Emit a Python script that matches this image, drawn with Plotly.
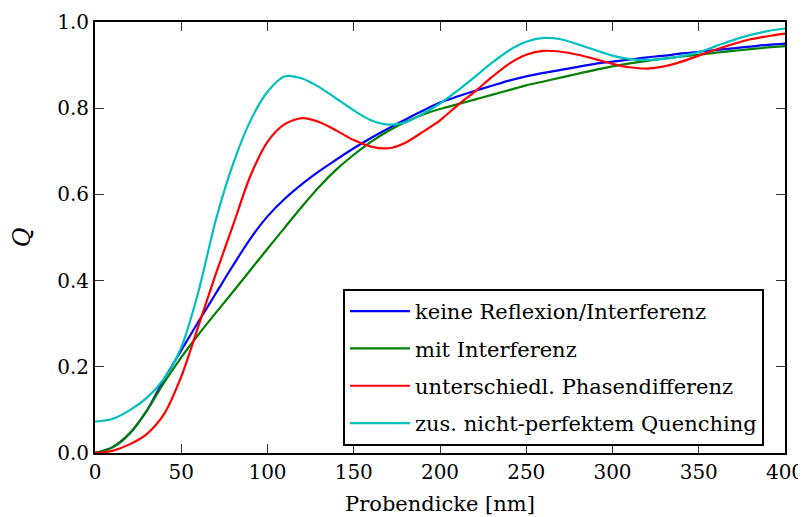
import plotly.graph_objects as go

x = list(range(0, 401, 10))

keine_reflexion = [0.0, 0.013, 0.045, 0.098, 0.171, 0.238, 0.305, 0.37, 0.435, 0.497,
                   0.549, 0.590, 0.624, 0.654, 0.681, 0.707, 0.731, 0.753, 0.774, 0.794,
                   0.813, 0.827, 0.840, 0.852, 0.864, 0.874, 0.882, 0.889, 0.896, 0.903,
                   0.908, 0.913, 0.918, 0.922, 0.927, 0.931, 0.935, 0.939, 0.943, 0.947, 0.950]

mit_interferenz = [0.0, 0.013, 0.045, 0.098, 0.163, 0.222, 0.275, 0.325, 0.374, 0.424,
                   0.474, 0.523, 0.572, 0.618, 0.658, 0.692, 0.722, 0.747, 0.768, 0.785,
                   0.798, 0.809, 0.82, 0.831, 0.842, 0.853, 0.862, 0.871, 0.88, 0.889,
                   0.897, 0.904, 0.91, 0.915, 0.92, 0.924, 0.929, 0.933, 0.937, 0.941, 0.944]

phasendifferenz = [0.0, 0.005, 0.02, 0.044, 0.09, 0.177, 0.295, 0.415, 0.528, 0.642,
                   0.722, 0.763, 0.777, 0.768, 0.748, 0.726, 0.711, 0.707, 0.72, 0.745,
                   0.772, 0.806, 0.838, 0.872, 0.903, 0.924, 0.933, 0.931, 0.924, 0.914,
                   0.903, 0.895, 0.892, 0.897, 0.908, 0.922, 0.936, 0.949, 0.96, 0.967, 0.973]

quenching = [0.073, 0.079, 0.099, 0.128, 0.172, 0.245, 0.375, 0.54, 0.67, 0.77,
             0.838, 0.874, 0.869, 0.849, 0.822, 0.795, 0.772, 0.762, 0.767, 0.787,
             0.811, 0.84, 0.872, 0.905, 0.934, 0.954, 0.963, 0.96, 0.948, 0.935,
             0.922, 0.914, 0.912, 0.915, 0.921, 0.93, 0.944, 0.958, 0.97, 0.979, 0.985]

names = ["keine Reflexion/Interferenz", "mit Interferenz",
         "unterschiedl. Phasendifferenz", "zus. nicht-perfektem Quenching"]
colors = ["#0000ff", "#008000", "#ff0000", "#00bfbf"]
series = [keine_reflexion, mit_interferenz, phasendifferenz, quenching]

fig = go.Figure()
for i, (name, color, y) in enumerate(zip(names, colors, series)):
    fig.add_trace(go.Scatter(x=x, y=y, mode="lines", name=name, legendgroup=f"g{i}",
                             line=dict(color=color, width=2.2, shape="spline", smoothing=0.8)))

font = "DejaVu Serif"
axis_common = dict(showgrid=False, zeroline=False, showline=True, linecolor="black",
                   linewidth=2, mirror="allticks", ticks="inside", ticklen=9,
                   tickwidth=1.3, tickcolor="#333333", automargin=False,
                   tickfont=dict(family=font, size=20, color="black"))

fig.update_layout(
    template="none",
    width=798, height=509,
    margin=dict(l=87, r=21, t=14, b=64),
    paper_bgcolor="white", plot_bgcolor="white",
    font=dict(family=font, color="black"),
    xaxis=dict(range=[0, 400], tickvals=[0, 50, 100, 150, 200, 250, 300, 350, 400],
               title=dict(text="Probendicke [nm]", font=dict(family=font, size=21), standoff=13),
               **axis_common),
    yaxis=dict(range=[0, 1.0], tickvals=[0, 0.2, 0.4, 0.6, 0.8, 1.0], tickformat=".1f",
               title=dict(text="<i>Q</i>", font=dict(family=font, size=24), standoff=22),
               **axis_common),
    legend=dict(x=0.3594, y=0.3805, xanchor="left", yanchor="top",
                bordercolor="black", borderwidth=2, bgcolor="white",
                font=dict(family=font, size=21), tracegroupgap=7,
                traceorder="grouped", itemwidth=60),
    showlegend=True,
)

fig.write_html("out.html")
